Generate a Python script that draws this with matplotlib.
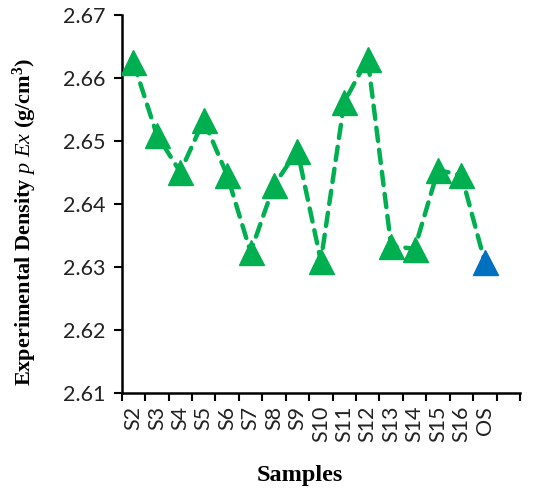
import numpy as np
import matplotlib
matplotlib.use("Agg")
import matplotlib.pyplot as plt

samples = ['S2', 'S3', 'S4', 'S5', 'S6', 'S7', 'S8', 'S9', 'S10', 'S11',
           'S12', 'S13', 'S14', 'S15', 'S16', 'OS']
density = [2.6625, 2.6510, 2.6451, 2.6533, 2.6446, 2.6324, 2.6430, 2.6485,
           2.6310, 2.6562, 2.6631, 2.6334, 2.6329, 2.6454, 2.6446, 2.6308]
n_slots = 17  # the category axis has one empty slot at the end

green = '#00B050'
blue = '#0070C0'

plt.rcParams['mathtext.fontset'] = 'custom'
plt.rcParams['mathtext.rm'] = 'Liberation Serif:bold'
plt.rcParams['mathtext.it'] = 'Liberation Serif:italic'
plt.rcParams['mathtext.bf'] = 'Liberation Serif:bold'

fig = plt.figure(figsize=(5.39, 4.88), dpi=100)
ax = fig.add_axes([121.7 / 539, 1 - 393.3 / 488, (520 - 121.7) / 539, (393.3 - 15) / 488])

x = np.arange(len(samples))
ax.plot(x, density, color=green, lw=3.2, linestyle=(0, (3, 2)),
        dash_capstyle='round', zorder=2)
ax.plot(x[:-1], density[:-1], linestyle='none', marker='^', markersize=18,
        color=green, zorder=3)
ax.plot(x[-1:], density[-1:], linestyle='none', marker='^', markersize=18,
        color=blue, zorder=3)

ax.set_xlim(-0.5, n_slots - 0.5)
ax.set_ylim(2.61, 2.67)
yt = np.arange(2.61, 2.6701, 0.01)
ax.set_yticks(yt)
ax.set_yticklabels([f'{v:.2f}' for v in yt], fontfamily='Lato',
                   fontsize=15.5, color='#222222')

ax.set_xticks(x)
ax.set_xticklabels(samples, rotation=90, fontfamily='Lato', fontsize=15.5,
                   color='#222222')
ax.set_xticks(np.arange(-0.5, n_slots, 1), minor=True)
ax.tick_params(axis='x', which='major', length=0, pad=9)
ax.tick_params(axis='x', which='minor', length=6, width=1.5, direction='out')
ax.tick_params(axis='y', length=6, width=1.5, direction='out', pad=6)

for side in ['top', 'right']:
    ax.spines[side].set_visible(False)
for side in ['left', 'bottom']:
    ax.spines[side].set_linewidth(1.8)

ax.set_xlabel('Samples', fontfamily='Liberation Serif', fontweight='bold',
              fontsize=17.5, va='center', ha='center')
ax.xaxis.set_label_coords(0.448, -0.216)
ax.set_ylabel(r'Experimental Density $\mathit{p\ Ex}$ (g/cm$^\mathbf{3}$)',
              fontfamily='Liberation Serif', fontweight='bold', fontsize=16,
              va='center', ha='center')
ax.yaxis.set_label_coords(-0.243, 0.453)

fig.savefig('out.png', dpi=100)
